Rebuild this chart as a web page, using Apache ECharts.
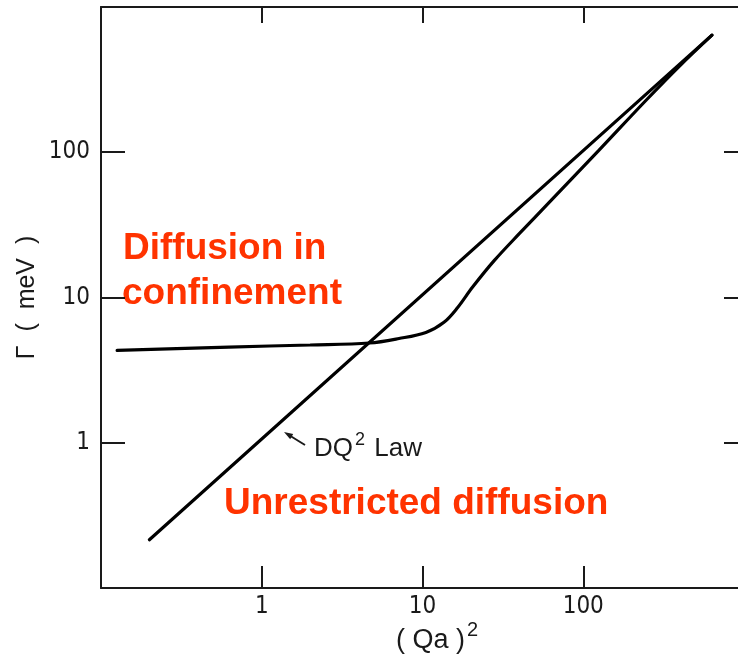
<!DOCTYPE html>
<html>
<head>
<meta charset="utf-8">
<script src="https://cdn.jsdelivr.net/npm/echarts@6/dist/echarts.min.js"></script>
<style>
  html, body { margin: 0; padding: 0; background: #fff; }
  #chart { width: 738px; height: 659px; }
</style>
</head>
<body>
<div id="chart"></div>
<script>
// Linewidth Γ versus (Qa)^2 on log-log axes
const tickValues = [1, 10, 100];

// Free diffusion: Γ = D Q^2 (straight line in log-log)
const lawQ2 = [0.2, 632];
const lawGamma = [0.215, 640];

// Diffusion in confinement: plateau at small Q, joins the DQ^2 law at large Q
const confQ2 = [0.126, 0.625, 2.0, 4.67, 7.14, 10.5, 13.6, 16.5, 20.5, 28.0, 40.0, 63.1, 125, 246, 400, 632];
const confGamma = [4.32, 4.56, 4.71, 4.86, 5.22, 5.75, 6.75, 8.5, 11.8, 18.0, 27.5, 46.6, 103, 228, 395, 640];

const pairs = (xs, ys) => xs.map((x, i) => [x, ys[i]]);

const INK = '#1a1a1a';
const RED = '#ff3300';
const tickFont = '"Liberation Sans Narrow", "DejaVu Sans Condensed", "Liberation Sans", Arial, sans-serif';
const textFont = '"Liberation Sans", Arial, Helvetica, sans-serif';

const showTick = v => tickValues.some(t => Math.abs(v - t) < 1e-6 * t) ? String(Math.round(v)) : '';

function logAxis(extra) {
  return Object.assign({
    type: 'log',
    logBase: 10,
    min: 0.1,
    max: 1000,
    splitLine: { show: false },
    minorTick: { show: false },
    axisLine: { show: true, lineStyle: { color: INK, width: 2 } },
    axisTick: { show: true, inside: true, lineStyle: { color: INK, width: 2 } },
    axisLabel: { show: false }
  }, extra);
}

const chart = echarts.init(document.getElementById('chart'), null, { renderer: 'canvas' });

chart.setOption({
  backgroundColor: '#ffffff',
  animation: false,
  grid: { left: 101, top: 7, width: 643, height: 581, containLabel: false, outerBoundsMode: 'none' },
  xAxis: [
    logAxis({
      position: 'bottom',
      axisTick: { show: true, inside: true, length: 22, lineStyle: { color: INK, width: 2 } },
      axisLabel: {
        show: true, margin: 7, color: INK, fontSize: 24, fontFamily: tickFont,
        formatter: showTick
      }
    }),
    logAxis({
      position: 'top',
      axisTick: { show: true, inside: true, length: 16, lineStyle: { color: INK, width: 2 } }
    })
  ],
  yAxis: [
    logAxis({
      position: 'left',
      axisTick: { show: true, inside: true, length: 24, lineStyle: { color: INK, width: 2 } },
      axisLabel: {
        show: true, margin: 11, color: INK, fontSize: 24, fontFamily: tickFont,
        formatter: showTick
      }
    }),
    logAxis({
      position: 'right',
      axisTick: { show: true, inside: true, length: 20, lineStyle: { color: INK, width: 2 } }
    })
  ],
  series: [
    {
      name: 'DQ2 law',
      type: 'line',
      xAxisIndex: 0, yAxisIndex: 0,
      data: pairs(lawQ2, lawGamma),
      showSymbol: false,
      lineStyle: { color: '#000', width: 3.2, cap: 'round' }
    },
    {
      name: 'Confinement',
      type: 'line',
      xAxisIndex: 0, yAxisIndex: 0,
      data: pairs(confQ2, confGamma),
      smooth: 0.35,
      showSymbol: false,
      lineStyle: { color: '#000', width: 3.2, cap: 'round' }
    }
  ],
  graphic: [
    // axis titles
    {
      type: 'text', x: 27, y: 297.5, rotation: Math.PI / 2,
      style: {
        text: 'Γ  (  meV  )', font: '25px ' + textFont, fill: INK,
        align: 'center', verticalAlign: 'middle'
      }
    },
    {
      type: 'text', x: 437, y: 641,
      style: {
        text: '{m|( Qa )}{s|2}',
        align: 'center', verticalAlign: 'middle',
        rich: {
          m: { font: '27px ' + textFont, fill: INK },
          s: { font: '20px ' + textFont, fill: INK, padding: [0, 0, 22, 2] }
        }
      }
    },
    // DQ^2 law label with arrow
    {
      type: 'line',
      shape: { x1: 305, y1: 445, x2: 288, y2: 434.5 },
      style: { stroke: INK, lineWidth: 2 }
    },
    {
      type: 'polygon',
      shape: { points: [[284, 432], [293.2, 434.0], [290.2, 439.2]] },
      style: { fill: INK }
    },
    {
      type: 'text', x: 314, y: 449,
      style: {
        text: '{m|DQ}{s|2}{m| Law}',
        align: 'left', verticalAlign: 'middle',
        rich: {
          m: { font: '26px ' + textFont, fill: INK },
          s: { font: '18px ' + textFont, fill: INK, padding: [0, 2, 18, 2] }
        }
      }
    },
    // regime annotations
    {
      type: 'text', x: 123, y: 249,
      style: { text: 'Diffusion in', font: 'bold 37px ' + textFont, fill: RED, align: 'left', verticalAlign: 'middle' }
    },
    {
      type: 'text', x: 122, y: 294,
      style: { text: 'confinement', font: 'bold 37px ' + textFont, fill: RED, align: 'left', verticalAlign: 'middle' }
    },
    {
      type: 'text', x: 224, y: 504,
      style: { text: 'Unrestricted diffusion', font: 'bold 37px ' + textFont, fill: RED, align: 'left', verticalAlign: 'middle' }
    }
  ]
});
</script>
</body>
</html>
